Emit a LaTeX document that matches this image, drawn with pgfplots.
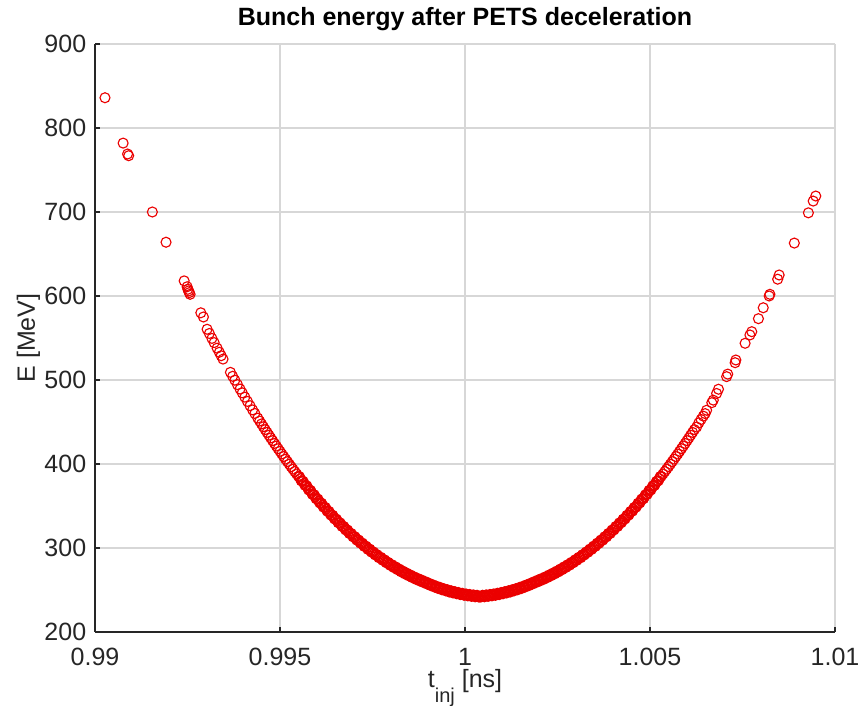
\documentclass[border=0pt]{standalone}
\usepackage{fontspec}
\setmainfont{Liberation Sans}
\usepackage{pgfplots}
\pgfplotsset{compat=1.18}
\definecolor{axgray}{RGB}{38,38,38}
\definecolor{gridgray}{RGB}{215,215,215}
\definecolor{markred}{RGB}{235,0,0}
\pgfplotsset{bunch/.style={only marks, mark=o, mark size=2pt, color=markred, mark options={line width=0.45pt}}}
\begin{document}
\begin{tikzpicture}
\begin{axis}[
 scale only axis, width=296pt, height=235.2pt,
 xmin=0.99, xmax=1.01, ymin=200, ymax=900,
 axis lines=left, axis line style={-, line width=0.7pt, axgray},
 xtick={0.99,0.995,1,1.005,1.01}, xticklabels={0.99,0.995,1,1.005,1.01},
 ytick={200,300,400,500,600,700,800,900}, yticklabels={200,300,400,500,600,700,800,900},
 tick align=inside, major tick length=2pt, tick style={axgray, line width=0.7pt},
 grid=major, major grid style={gridgray, line width=0.8pt},
 ticklabel style={font=\fontsize{10}{12}\selectfont, text=axgray},
 xticklabel style={yshift=-3pt},
 every axis title/.style={at={(axis description cs:0.5,1)}, anchor=base, yshift=7.2pt, font=\fontsize{10}{12}\selectfont},
 title={\bfseries Bunch energy after PETS deceleration},
 xlabel={t\raisebox{-6pt}{\fontsize{8}{9}\selectfont inj} [ns]},
 xlabel style={at={(axis description cs:0.5,-0.0952)}, anchor=base, font=\fontsize{10}{12}\selectfont, text=axgray},
 ylabel={E [MeV]},
 ylabel style={at={(axis description cs:-0.0811,0.5)}, anchor=base, font=\fontsize{10}{12}\selectfont, text=axgray},
]
\addplot[bunch] coordinates {
(0.99027,836)(0.99076,782)(0.99088,769)(0.99091,767)(0.99155,700)(0.99192,664)(0.99241,618)(0.99249,611)(0.99251,608)(0.99253,606)(0.99255,604)(0.99257,602)(0.99286,580)(0.99293,575)(0.99303,560.4)(0.99309,555.4)(0.99316,549.5)(0.99322,544.5)(0.99330,537.9)(0.99336,533.0)(0.99341,528.9)(0.99346,524.9)(0.99366,509.1)(0.99372,504.4)(0.99378,499.8)(0.99385,494.5)(0.99392,489.2)(0.99398,484.7)(0.99405,479.6)(0.99412,474.5)(0.99419,469.4)(0.99426,464.4)(0.99432,460.2)
(0.99440,454.6)(0.99445,451.1)(0.99450,447.7)(0.99455,444.3)(0.99460,440.9)(0.99465,437.6)(0.99470,434.3)(0.99475,431.0)(0.99480,427.8)(0.99485,424.5)(0.99490,421.4)(0.99495,418.2)(0.99500,415.1)(0.99505,411.9)(0.99510,408.9)(0.99515,405.8)(0.99520,402.8)(0.99525,399.8)(0.99530,396.8)(0.99535,393.9)(0.99540,391.0)(0.99545,388.1)(0.99550,385.3)(0.99555,382.5)(0.99560,379.7)(0.99565,376.9)(0.99570,374.2)(0.99575,371.5)(0.99580,368.8)(0.99585,366.2)(0.99590,363.6)(0.99595,361.0)(0.99600,358.4)(0.99605,355.9)(0.99610,353.4)(0.99615,350.9)(0.99620,348.5)(0.99625,346.1)(0.99630,343.7)(0.99635,341.3)(0.99640,339.0)(0.99645,336.7)(0.99650,334.4)(0.99655,332.2)(0.99660,330.0)(0.99665,327.8)(0.99670,325.6)(0.99675,323.5)(0.99680,321.4)(0.99685,319.3)(0.99690,317.3)(0.99695,315.3)(0.99700,313.3)(0.99705,311.4)(0.99710,309.4)(0.99715,307.6)(0.99720,305.7)(0.99725,303.9)(0.99730,302.1)(0.99735,300.3)(0.99740,298.5)(0.99745,296.8)(0.99750,295.1)(0.99755,293.5)(0.99760,291.8)(0.99765,290.2)(0.99770,288.6)(0.99775,287.1)(0.99780,285.6)(0.99785,284.1)(0.99790,282.6)(0.99795,281.2)(0.99800,279.8)(0.99805,278.4)(0.99810,277.1)(0.99815,275.8)(0.99820,274.5)(0.99825,273.2)(0.99830,272.0)(0.99835,270.8)(0.99840,269.6)(0.99845,268.5)(0.99850,267.4)(0.99855,266.3)(0.99860,265.2)(0.99865,264.2)(0.99870,263.2)(0.99875,262.2)(0.99880,261.3)(0.99885,260.4)(0.99890,259.5)(0.99895,258.5)(0.99900,257.6)(0.99905,256.6)(0.99910,255.7)(0.99915,254.9)(0.99920,254.0)(0.99925,253.2)(0.99930,252.4)(0.99935,251.7)(0.99940,250.9)(0.99945,250.3)(0.99950,249.6)(0.99955,248.9)(0.99960,248.3)(0.99965,247.8)(0.99970,247.2)(0.99975,246.7)(0.99980,246.2)(0.99985,245.7)(0.99990,245.3)(0.99995,244.9)(1.00000,244.5)(1.00005,244.1)(1.00010,243.8)(1.00015,243.5)(1.00020,243.3)(1.00025,243.0)(1.00030,242.8)(1.00035,242.6)(1.00040,242.5)
(1.00045,242.6)(1.00050,242.8)(1.00055,243.0)(1.00060,243.3)(1.00065,243.5)(1.00070,243.8)(1.00075,244.1)(1.00080,244.5)(1.00085,244.9)(1.00090,245.3)(1.00095,245.7)(1.00100,246.2)(1.00105,246.7)(1.00110,247.2)(1.00115,247.8)(1.00120,248.3)(1.00125,248.9)(1.00130,249.6)(1.00135,250.3)(1.00140,250.9)(1.00145,251.7)(1.00150,252.4)(1.00155,253.2)(1.00160,254.0)(1.00165,254.9)(1.00170,255.7)(1.00175,256.6)(1.00180,257.6)(1.00185,258.5)(1.00190,259.5)(1.00195,260.4)(1.00200,261.3)(1.00205,262.2)(1.00210,263.2)(1.00215,264.2)(1.00220,265.2)(1.00225,266.3)(1.00230,267.4)(1.00235,268.5)(1.00240,269.6)(1.00245,270.8)(1.00250,272.0)(1.00255,273.2)(1.00260,274.5)(1.00265,275.8)(1.00270,277.1)(1.00275,278.4)(1.00280,279.8)(1.00285,281.2)(1.00290,282.6)(1.00295,284.1)(1.00300,285.6)(1.00305,287.1)(1.00310,288.6)(1.00315,290.2)(1.00320,291.8)(1.00325,293.5)(1.00330,295.1)(1.00335,296.8)(1.00340,298.5)(1.00345,300.3)(1.00350,302.1)(1.00355,303.9)(1.00360,305.7)(1.00365,307.6)(1.00370,309.4)(1.00375,311.4)(1.00380,313.3)(1.00385,315.3)(1.00390,317.3)(1.00395,319.3)(1.00400,321.4)(1.00405,323.5)(1.00410,325.6)(1.00415,327.8)(1.00420,330.0)(1.00425,332.2)(1.00430,334.4)(1.00435,336.7)(1.00440,339.0)(1.00445,341.3)(1.00450,343.7)(1.00455,346.1)(1.00460,348.5)(1.00465,350.9)(1.00470,353.4)(1.00475,355.9)(1.00480,358.4)(1.00485,361.0)(1.00490,363.6)(1.00495,366.2)(1.00500,368.8)(1.00505,371.5)(1.00510,374.2)(1.00515,376.9)(1.00520,379.7)(1.00525,382.5)(1.00530,385.3)(1.00535,388.1)(1.00540,391.0)(1.00545,393.9)(1.00550,396.8)(1.00555,399.8)(1.00560,402.8)(1.00565,405.8)(1.00570,408.9)(1.00575,411.9)(1.00580,415.1)(1.00585,418.2)(1.00590,421.4)(1.00595,424.5)(1.00600,427.8)(1.00605,431.0)(1.00610,434.3)(1.00615,437.6)(1.00620,440.9)
(1.00626,444)(1.00632,449)(1.00638,453)(1.00644,457)(1.00649,460)(1.00653,464)(1.00667,473)(1.00671,476)(1.00680,484)(1.00685,489)(1.00707,504)(1.00710,507)(1.00730,520.6)(1.00732,523.8)(1.00757,543.7)(1.00770,553.6)(1.00775,557.5)(1.00793,573)(1.00806,586)(1.00822,600)(1.00824,602)(1.00845,620)(1.00849,625)(1.00890,663)(1.00928,699)(1.00941,713)(1.00948,719)
};
\addplot[bunch] coordinates {
(0.995525,384.9)(0.995575,380.1)(0.995625,379.3)(0.995675,374.6)(0.995725,373.9)(0.995775,369.2)(0.995825,368.5)(0.995875,363.9)(0.995925,363.3)(0.995975,358.7)(0.996025,358.2)(0.996075,353.7)(0.996125,353.2)(0.996175,348.7)(0.996225,348.3)(0.996275,343.9)(0.996325,343.5)(0.996375,339.2)(0.996425,338.9)(0.996475,334.6)(0.996525,334.3)(0.996575,330.1)(0.996625,329.9)(0.996675,325.7)(0.996725,325.6)(0.996775,321.5)(0.996825,321.4)(0.996875,317.3)(0.996925,317.3)(0.996975,313.3)(0.997025,313.4)(0.997075,309.4)(0.997125,309.5)(0.997175,305.7)(0.997225,305.8)(0.997275,302.0)(0.997325,302.2)(0.997375,298.4)(0.997425,298.7)(0.997475,295.0)(0.997525,295.3)(0.997575,291.7)(0.997625,292.0)(0.997675,288.4)(0.997725,288.9)(0.997775,285.4)(0.997825,285.9)(0.997875,282.4)(0.997925,282.9)(0.997975,279.5)
(0.998025,280.1)(0.998075,276.8)(0.998125,277.5)(0.998175,274.2)(0.998225,274.9)(0.998275,271.6)(0.998325,272.4)(0.998375,269.2)(0.998425,270.1)(0.998475,267.0)(0.998525,267.9)(0.998575,264.8)(0.998625,265.7)(0.998675,262.7)(0.998725,263.7)(0.998775,260.8)(0.998825,261.9)(0.998875,259.0)(0.998925,260.0)(0.998975,257.1)(0.999025,258.1)(0.999075,255.2)(0.999125,256.3)(0.999175,253.5)(0.999225,254.6)(0.999275,251.8)(0.999325,253.1)(0.999375,250.3)(0.999425,251.6)(0.999475,249.0)(0.999525,250.3)(0.999575,247.6)(0.999625,249.1)(0.999675,246.5)(0.999725,248.0)(0.999775,245.5)(0.999825,247.0)(0.999875,244.5)(0.999925,246.1)(0.999975,243.7)(1.000025,245.3)(1.000075,243.0)(1.000125,244.7)(1.000175,242.4)(1.000225,244.2)(1.000275,241.9)(1.000325,243.7)(1.000375,241.6)
(1.000425,241.6)(1.000475,243.7)(1.000525,241.9)(1.000575,244.2)(1.000625,242.4)(1.000675,244.7)(1.000725,243.0)(1.000775,245.3)(1.000825,243.7)(1.000875,246.1)(1.000925,244.5)(1.000975,247.0)(1.001025,245.5)(1.001075,248.0)(1.001125,246.5)(1.001175,249.1)(1.001225,247.6)(1.001275,250.3)(1.001325,249.0)(1.001375,251.6)(1.001425,250.3)(1.001475,253.1)(1.001525,251.8)(1.001575,254.6)(1.001625,253.5)(1.001675,256.3)(1.001725,255.2)(1.001775,258.1)(1.001825,257.1)(1.001875,260.0)(1.001925,259.0)(1.001975,261.9)(1.002025,260.8)(1.002075,263.7)(1.002125,262.7)(1.002175,265.7)(1.002225,264.8)(1.002275,267.9)(1.002325,267.0)(1.002375,270.1)(1.002425,269.2)(1.002475,272.4)(1.002525,271.6)(1.002575,274.9)(1.002625,274.2)(1.002675,277.5)(1.002725,276.8)(1.002775,280.1)
(1.002825,279.5)(1.002875,282.9)(1.002925,282.4)(1.002975,285.9)(1.003025,285.4)(1.003075,288.9)(1.003125,288.4)(1.003175,292.0)(1.003225,291.7)(1.003275,295.3)(1.003325,295.0)(1.003375,298.7)(1.003425,298.4)(1.003475,302.2)(1.003525,302.0)(1.003575,305.8)(1.003625,305.7)(1.003675,309.5)(1.003725,309.4)(1.003775,313.4)(1.003825,313.3)(1.003875,317.3)(1.003925,317.3)(1.003975,321.4)(1.004025,321.5)(1.004075,325.6)(1.004125,325.7)(1.004175,329.9)(1.004225,330.1)(1.004275,334.3)(1.004325,334.6)(1.004375,338.9)(1.004425,339.2)(1.004475,343.5)(1.004525,343.9)(1.004575,348.3)(1.004625,348.7)(1.004675,353.2)(1.004725,353.7)(1.004775,358.2)(1.004825,358.7)(1.004875,363.3)(1.004925,363.9)(1.004975,368.5)(1.005025,369.2)(1.005075,373.9)(1.005125,374.6)(1.005175,379.3)(1.005225,380.1)(1.005275,384.9)
};
\end{axis}
\pgfresetboundingbox
\path ([xshift=-38pt,yshift=-29.6pt]current axis.south west) rectangle ([xshift=12.4pt,yshift=17.6pt]current axis.north east);
\end{tikzpicture}
\end{document}
